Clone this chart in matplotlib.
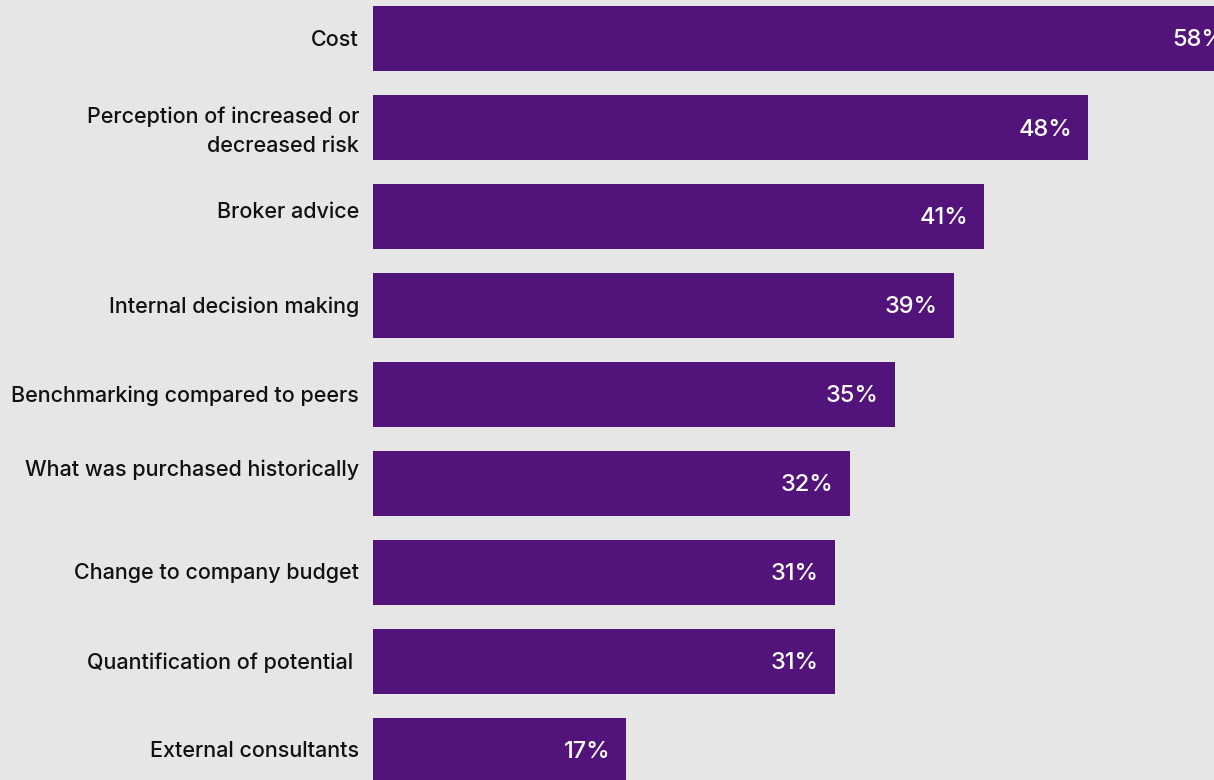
import matplotlib
matplotlib.use("Agg")
import matplotlib.pyplot as plt

categories = [
    "Cost",
    "Perception of increased or\ndecreased risk",
    "Broker advice",
    "Internal decision making",
    "Benchmarking compared to peers",
    "What was purchased historically",
    "Change to company budget",
    "Quantification of potential ",
    "External consultants",
]
values = [58, 48, 41, 39, 35, 32, 31, 31, 17]
value_labels = ["58%", "48%", "41%", "39%", "35%", "32%", "31%", "31%", "17%"]

BG = "#e6e6e6"
BAR = "#52137b"

plt.rcParams["font.family"] = ["Inter", "DejaVu Sans"]

W, H, DPI = 1214, 780, 100
fig = plt.figure(figsize=(W / DPI, H / DPI), dpi=DPI, facecolor=BG)

left_px = 373
px_per_pct = 14.9
pitch = 89.0
first_center = 38.5

ax = fig.add_axes([left_px / W, 0, 1 - left_px / W, 1])
ax.set_facecolor(BG)
ax.set_xlim(0, (W - left_px) / px_per_pct)
ax.set_ylim((H - first_center) / pitch, -first_center / pitch)
for s in ax.spines.values():
    s.set_visible(False)
ax.set_xticks([])
ax.set_yticks([])

ypos = list(range(len(categories)))
ax.barh(ypos, values, height=65 / pitch, color=BAR, linewidth=0)

# a few category labels sit a little above their bar's centre line
label_shift = {1: -4, 2: 5, 5: 14}

for i, (cat, v, lab) in enumerate(zip(categories, values, value_labels)):
    ax.annotate(cat, xy=(0, i), xytext=(-14, label_shift.get(i, -1)),
                textcoords="offset pixels", ha="right", va="center",
                fontsize=15.5, fontweight="medium", color="#111111",
                linespacing=1.55, annotation_clip=False)
    ax.annotate(lab, xy=(v, i), xytext=(-12 if v > 55 else -16, -2),
                textcoords="offset pixels", ha="right", va="center",
                fontsize=17, fontweight="medium", color="white",
                annotation_clip=False)

fig.savefig("out.png", dpi=DPI, facecolor=BG)
